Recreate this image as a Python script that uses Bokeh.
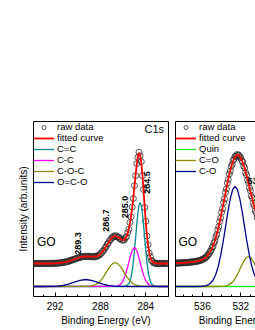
import math
from bokeh.plotting import figure
from bokeh.layouts import row
from bokeh.models import FixedTicker, Range1d, Legend, LegendItem, Label, LinearAxis, Title
from bokeh.embed import file_html
from bokeh.resources import INLINE

FONT = "Liberation Sans"

# ---------------- C1s panel data ----------------
c1s_energy = [round(282.0 + 0.1 * i, 1) for i in range(121)]
c1s_raw = [33.2, 32.8, 33.1, 32.9, 33.0, 33.3, 32.8, 33.1, 33.0, 32.9,
           33.3, 32.9, 33.6, 33.5, 35.0, 36.0, 39.8, 43.4, 51.8, 60.6,
           75.2, 89.1, 107.0, 120.9, 134.8, 140.7, 144.3, 139.2, 132.9, 120.8,
           110.9, 98.0, 89.5, 79.6, 73.9, 67.1, 63.9, 59.8, 58.7, 56.4,
           56.9, 56.3, 57.8, 57.7, 59.5, 59.4, 60.8, 60.0, 60.6, 59.2,
           59.0, 56.8, 56.0, 53.4, 52.3, 49.7, 48.6, 46.1, 45.4, 43.2,
           42.9, 41.2, 41.1, 40.1, 40.3, 39.5, 40.1, 39.6, 40.0, 39.7,
           40.3, 39.9, 40.3, 39.8, 40.2, 39.7, 39.9, 39.3, 39.4, 38.7,
           38.7, 37.9, 37.9, 37.1, 37.1, 36.3, 36.3, 35.5, 35.6, 34.8,
           34.9, 34.3, 34.4, 33.8, 34.0, 33.5, 33.8, 33.2, 33.6, 33.1,
           33.4, 33.0, 33.3, 32.9, 33.3, 32.8, 33.2, 32.9, 33.1, 32.8,
           33.2, 32.9, 33.1, 33.0, 32.8, 33.2, 32.9, 33.1, 32.9, 33.1,
           33.0]
c1s_fit = [33.0, 33.0, 33.0, 33.0, 33.0, 33.0, 33.0, 33.0, 33.0, 33.0,
           33.1, 33.1, 33.3, 33.8, 34.6, 36.3, 39.2, 43.9, 51.1, 61.3,
           74.4, 89.8, 106.1, 121.7, 134.0, 141.5, 143.5, 140.0, 132.0, 121.6,
           110.0, 98.8, 88.7, 80.2, 73.3, 67.7, 63.4, 60.3, 58.2, 56.9,
           56.5, 56.7, 57.3, 58.1, 59.0, 59.8, 60.3, 60.4, 60.2, 59.6,
           58.6, 57.2, 55.6, 53.8, 51.9, 50.1, 48.2, 46.5, 45.0, 43.6,
           42.5, 41.5, 40.8, 40.4, 40.0, 39.8, 39.8, 39.8, 39.8, 39.9,
           40.0, 40.1, 40.1, 40.1, 40.0, 39.9, 39.7, 39.5, 39.2, 38.9,
           38.5, 38.1, 37.7, 37.3, 36.9, 36.5, 36.1, 35.7, 35.4, 35.0,
           34.7, 34.5, 34.2, 34.0, 33.8, 33.7, 33.6, 33.4, 33.4, 33.3,
           33.2, 33.2, 33.1, 33.1, 33.1, 33.0, 33.0, 33.0, 33.0, 33.0,
           33.0, 33.0, 33.0, 33.0, 33.0, 33.0, 33.0, 33.0, 33.0, 33.0,
           33.0]

cc_x = [282.0, 283.0, 283.3, 283.5, 283.6, 283.7, 283.8, 283.9, 284.0, 284.1, 284.2, 284.3, 284.4,
        284.5, 284.6, 284.7, 284.8, 284.9, 285.0, 285.1, 285.2, 285.3, 285.4, 285.5, 285.7, 286.0, 294.0]
cc_y = [10.0, 10.0, 10.6, 12.7, 15.3, 19.4, 25.7, 34.5, 45.7, 58.6, 71.7, 83.3, 91.2,
        94.0, 91.2, 83.3, 71.7, 58.6, 45.7, 34.5, 25.7, 19.4, 15.3, 12.7, 10.6, 10.0, 10.0]
c_c_x = [282.0, 283.2, 283.4, 283.6, 283.8, 284.0, 284.2, 284.4, 284.6, 284.8, 285.0,
         285.2, 285.4, 285.6, 285.8, 286.0, 286.2, 286.4, 286.6, 286.8, 294.0]
c_c_y = [10.0, 10.1, 10.3, 10.9, 12.4, 15.7, 21.4, 29.5, 38.7, 46.1, 49.0,
         46.1, 38.7, 29.5, 21.4, 15.7, 12.4, 10.9, 10.3, 10.1, 10.0]
coc_x = [282.0, 284.2, 284.45, 284.7, 284.95, 285.2, 285.45, 285.7, 285.95, 286.2, 286.45, 286.7,
         286.95, 287.2, 287.45, 287.7, 287.95, 288.2, 288.45, 288.7, 288.95, 289.2, 294.0]
coc_y = [10.0, 10.1, 10.3, 10.8, 11.7, 13.5, 16.3, 20.2, 24.8, 29.4, 32.7, 34.0,
         32.7, 29.4, 24.8, 20.2, 16.3, 13.5, 11.7, 10.8, 10.3, 10.1, 10.0]
ococ_x = [282.0, 285.5, 286.3, 286.8, 287.3, 287.8, 288.3, 288.8, 289.3,
          289.8, 290.3, 290.8, 291.3, 291.8, 292.3, 293.0, 294.0]
ococ_y = [10.0, 10.0, 10.1, 10.35, 11.0, 12.4, 14.3, 16.2, 17.0,
          16.2, 14.3, 12.4, 11.0, 10.35, 10.1, 10.0, 10.0]

c1s_peak_text = ["289.3", "286.7", "285.0", "284.5"]
c1s_peak_x = [289.96, 287.5, 285.83, 283.9]
c1s_peak_y = [53.0, 76.0, 89.5, 114.0]

c1s_major = [284, 288, 292]
c1s_minor = [282, 283, 285, 286, 287, 289, 290, 291, 293]

# ---------------- O1s panel data ----------------
o1s_energy = [round(530.2 + 0.1 * i, 1) for i in range(89)]
o1s_raw = [77.5, 79.1, 83.8, 85.8, 90.9, 93.2, 98.5, 100.7,
           105.8, 108.7, 113.9, 116.5, 121.5, 123.8, 128.7, 130.6, 134.6, 135.9,
           138.9, 139.4, 141.5, 141.0, 142.0, 140.3, 140.1, 137.3, 136.1, 132.2,
           130.2, 125.4, 122.5, 117.0, 113.5, 107.6, 103.8, 97.6, 94.0, 87.8,
           84.2, 78.4, 75.0, 69.7, 66.6, 62.0, 59.5, 55.4, 53.4, 50.1,
           48.7, 45.9, 45.0, 42.7, 42.0, 40.2, 39.8, 38.5, 38.3, 37.2,
           37.3, 36.3, 36.4, 35.8, 35.9, 35.2, 35.4, 34.9, 35.1, 34.5,
           34.8, 34.3, 34.6, 34.1, 34.4, 33.9, 34.2, 33.7, 34.0, 33.6,
           33.9, 33.5, 33.8, 33.4, 33.7, 33.3, 33.6, 33.2, 33.5, 33.1,
           33.3]
o1s_fit = [76.8, 79.8, 83.0, 86.5, 90.1, 93.9, 97.7, 101.4,
           105.0, 109.4, 113.1, 117.2, 120.8, 124.5, 128.0, 131.2, 134.0, 136.5,
           138.3, 139.9, 140.9, 141.5, 141.4, 140.8, 139.5, 137.8, 135.5, 132.8,
           129.6, 126.0, 121.9, 117.6, 112.9, 108.2, 103.2, 98.2, 93.4, 88.4,
           83.6, 78.9, 74.4, 70.2, 66.1, 62.5, 59.0, 55.8, 53.0, 50.5,
           48.3, 46.3, 44.6, 43.0, 41.7, 40.5, 39.5, 38.8, 38.0, 37.5,
           37.0, 36.5, 36.2, 36.0, 35.7, 35.4, 35.2, 35.1, 34.9, 34.7,
           34.6, 34.5, 34.4, 34.3, 34.2, 34.1, 34.0, 33.9, 33.8, 33.8,
           33.7, 33.7, 33.6, 33.6, 33.5, 33.5, 33.4, 33.4, 33.3, 33.3,
           33.2]
quin_x = [529.0, 539.0]
quin_y = [10.0, 10.0]
co_dbl_x = [529.2, 529.45, 529.7, 529.95, 530.2, 530.45, 530.7, 530.95, 531.2, 531.45, 531.7,
            531.95, 532.2, 532.45, 532.7, 532.95, 533.2, 533.45, 533.7, 534.2, 534.7, 539.0]
co_dbl_y = [11.9, 13.6, 16.3, 20.2, 25.0, 30.3, 35.2, 38.7, 40.0, 38.7, 35.2,
            30.3, 25.0, 20.2, 16.3, 13.6, 11.9, 10.9, 10.4, 10.1, 10.0, 10.0]
co_sgl_x = [529.6, 529.85, 530.1, 530.35, 530.6, 530.85, 531.1, 531.35, 531.6, 531.85, 532.1, 532.35,
            532.6, 532.85, 533.1, 533.35, 533.6, 533.85, 534.1, 534.35, 534.6, 534.85, 535.1,
            535.35, 535.6, 536.1, 536.6, 539.0]
co_sgl_y = [10.9, 11.9, 13.8, 17.0, 22.3, 30.1, 40.8, 54.1, 69.2, 84.5, 97.7, 106.8,
            110.0, 106.8, 97.7, 84.5, 69.2, 54.1, 40.8, 30.1, 22.3, 17.0, 13.8,
            11.9, 10.9, 10.2, 10.0, 10.0]

o1s_peak_text = ["532.6"]
o1s_peak_x = [531.3]
o1s_peak_y = [116.0]

o1s_major = [532, 536]
o1s_minor = [531, 533, 534, 535, 537, 538]

RAW_COLOR = "#2a2a2a"
FIT_COLOR = "#ff0000"


def style_bottom(ax, majors, minors):
    ax.ticker = FixedTicker(ticks=majors, minor_ticks=minors)
    ax.major_tick_in = 4
    ax.major_tick_out = 0
    ax.minor_tick_in = 2
    ax.minor_tick_out = 0
    ax.major_tick_line_color = "black"
    ax.minor_tick_line_color = "black"
    ax.axis_line_color = "black"
    ax.major_label_text_font = FONT
    ax.major_label_text_font_size = "10px"
    ax.major_label_text_color = "black"
    ax.major_label_standoff = 5


def style_legend(p, items):
    leg = Legend(items=items, location="top_left")
    leg.border_line_color = None
    leg.background_fill_alpha = 0
    leg.padding = 3
    leg.margin = 0
    leg.spacing = 0
    leg.glyph_height = 10
    leg.label_height = 10
    leg.glyph_width = 21
    leg.label_standoff = 3
    leg.label_text_font = FONT
    leg.label_text_font_size = "9.5px"
    leg.label_text_color = "black"
    p.add_layout(leg)


def add_text(p, x, y, text, size, align="left", style="normal", angle=0.0):
    p.add_layout(Label(x=x, y=y, text=text, text_align=align, text_baseline="middle",
                       text_font=FONT, text_font_size=size, text_font_style=style,
                       text_color="black", angle=angle))


def add_xlabel(p, offset):
    p.add_layout(Title(text="Binding Energy (eV)", align="left", offset=offset,
                       text_font=FONT, text_font_size="10px", text_font_style="normal",
                       text_color="black", standoff=1), "below")


# ---------------- left figure ----------------
p1 = figure(width=171, height=330, x_range=Range1d(293.9, 282.0), y_range=Range1d(0, 175),
            output_backend="svg", toolbar_location=None,
            min_border_left=33, min_border_right=3, min_border_top=121, min_border_bottom=34)
p1.grid.visible = False
p1.outline_line_color = "black"
p1.outline_line_alpha = 1
p1.outline_line_width = 1

p1.yaxis.ticker = FixedTicker(ticks=[])
p1.yaxis.axis_line_color = None
p1.yaxis.axis_label = "Intensity (arb.units)"
p1.yaxis.axis_label_text_font = FONT
p1.yaxis.axis_label_text_font_size = "10px"
p1.yaxis.axis_label_text_font_style = "normal"
p1.yaxis.axis_label_text_color = "black"
p1.yaxis.axis_label_standoff = 5
style_bottom(p1.below[0], c1s_major, c1s_minor)
add_xlabel(p1, 27.7)

r_raw = p1.scatter(c1s_energy, c1s_raw, marker="circle", size=6, fill_color=None,
                   line_color=RAW_COLOR, line_width=0.8)
r_fit = p1.line(c1s_energy, c1s_fit, line_color=FIT_COLOR, line_width=1.8)
r_cc = p1.line(cc_x, cc_y, line_color="#008b8b", line_width=1.3)
r_c_c = p1.line(c_c_x, c_c_y, line_color="#ff00ff", line_width=1.3)
r_coc = p1.line(coc_x, coc_y, line_color="#8b8b00", line_width=1.3)
r_ococ = p1.line(ococ_x, ococ_y, line_color="#00008b", line_width=1.3)

style_legend(p1, [LegendItem(label="raw data", renderers=[r_raw]),
                  LegendItem(label="fitted curve", renderers=[r_fit]),
                  LegendItem(label="C=C", renderers=[r_cc]),
                  LegendItem(label="C-C", renderers=[r_c_c]),
                  LegendItem(label="C-O-C", renderers=[r_coc]),
                  LegendItem(label="O=C-O", renderers=[r_ococ])])

add_text(p1, 282.39, 167.5, "C1s", "11px", align="right")
add_text(p1, 293.59, 55.0, "GO", "12px")
for t, x, y in zip(c1s_peak_text, c1s_peak_x, c1s_peak_y):
    add_text(p1, x, y, t, "9px", align="center", style="bold", angle=math.pi / 2)

# ---------------- right figure ----------------
p2 = figure(width=84, height=330, x_range=Range1d(538.8, 530.47), y_range=Range1d(0, 175),
            output_backend="svg", toolbar_location=None,
            min_border_left=4, min_border_right=0, min_border_top=121, min_border_bottom=34)
p2.grid.visible = False
p2.outline_line_color = None
p2.yaxis.ticker = FixedTicker(ticks=[])
p2.yaxis.axis_line_color = "black"
style_bottom(p2.below[0], o1s_major, o1s_minor)
add_xlabel(p2, 23.3)
p2.add_layout(LinearAxis(ticker=FixedTicker(ticks=[]), axis_line_color="black",
                         major_label_text_font_size="0px"), "above")

s_raw = p2.scatter(o1s_energy, o1s_raw, marker="circle", size=6, fill_color=None,
                   line_color=RAW_COLOR, line_width=0.8)
s_fit = p2.line(o1s_energy, o1s_fit, line_color=FIT_COLOR, line_width=1.8)
s_quin = p2.line(quin_x, quin_y, line_color="#22ee22", line_width=1.3)
s_cdo = p2.line(co_dbl_x, co_dbl_y, line_color="#8b8b00", line_width=1.3)
s_co = p2.line(co_sgl_x, co_sgl_y, line_color="#00008b", line_width=1.3)

style_legend(p2, [LegendItem(label="raw data", renderers=[s_raw]),
                  LegendItem(label="fitted curve", renderers=[s_fit]),
                  LegendItem(label="Quin", renderers=[s_quin]),
                  LegendItem(label="C=O", renderers=[s_cdo]),
                  LegendItem(label="C-O", renderers=[s_co])])

add_text(p2, 538.49, 55.0, "GO", "12px")
for t, x, y in zip(o1s_peak_text, o1s_peak_x, o1s_peak_y):
    add_text(p2, x, y, t, "9px", style="bold")

layout = row(p1, p2, spacing=0)
open("out.html", "w").write(file_html(layout, INLINE))
